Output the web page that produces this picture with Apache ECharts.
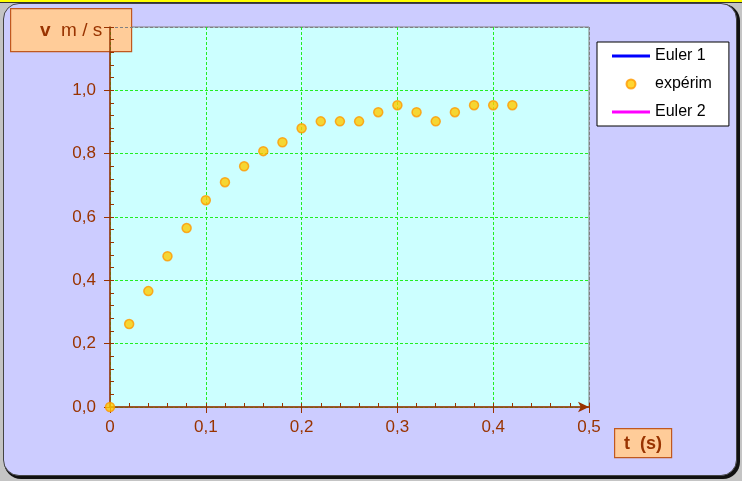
<!DOCTYPE html>
<html>
<head>
<meta charset="utf-8">
<script src="https://cdn.jsdelivr.net/npm/echarts@6/dist/echarts.min.js"></script>
<style>
  html, body { margin: 0; padding: 0; width: 742px; height: 481px; overflow: hidden; background: #c4c4c4; }
  #topstrip { position: absolute; left: 0; top: 0; width: 742px; height: 2px; background: #ffff00; border-bottom: 1px solid #333; }
  #frame { position: absolute; left: 3px; top: 3px; width: 732px; height: 471px; background: #ccccff;
           border: 1px solid #444; border-radius: 16px; box-shadow: 2px 2px 0 1px #111; }
  #chart { position: absolute; left: 0; top: 0; width: 742px; height: 481px; }
</style>
</head>
<body>
<div id="topstrip"></div>
<div id="frame"></div>
<div id="chart"></div>
<script>
// ---- data ----
const tValues = [0, 0.02, 0.04, 0.06, 0.08, 0.10, 0.12, 0.14, 0.16, 0.18, 0.20, 0.22, 0.24, 0.26, 0.28, 0.30, 0.32, 0.34, 0.36, 0.38, 0.40, 0.42];
const vValues = [0, 0.262, 0.366, 0.476, 0.565, 0.653, 0.710, 0.760, 0.808, 0.836, 0.880, 0.902, 0.902, 0.902, 0.931, 0.953, 0.931, 0.902, 0.931, 0.953, 0.953, 0.953];
const euler1 = [];
const euler2 = [];
const seriesNames = ['Euler 1', 'expérim', 'Euler 2'];
const yAxisTitle = 'v';
const yAxisUnit = 'm / s';
const xAxisTitle = 't  (s)';

const brown = '#993300';
const fontFam = '"Liberation Sans", Arial, sans-serif';
const fmtNum = v => Math.abs(v) < 1e-9 ? '0' : v.toFixed(1).replace('.', ',');

const chart = echarts.init(document.getElementById('chart'), null, { renderer: 'canvas' });

const baseX = { type: 'value', min: 0, max: 0.5, interval: 0.1, gridIndex: 0 };
const baseY = { type: 'value', min: 0, max: 1.2, interval: 0.2, gridIndex: 0 };
const green = '#22ee22';
const lineIcon = 'path://M0,0H38V3H0Z';

chart.setOption({
  backgroundColor: 'transparent',
  animation: false,
  textStyle: { fontFamily: fontFam },
  grid: {
    left: 110, top: 27, width: 479, height: 380,
    show: true, backgroundColor: '#ccffff', borderColor: '#808080', borderWidth: 1
  },
  legend: {
    orient: 'vertical',
    left: 597, top: 42,
    backgroundColor: '#ffffff', borderColor: '#000000', borderWidth: 1, borderRadius: 0,
    padding: [5, 17, 5, 15],
    itemWidth: 38, itemHeight: 9, itemGap: 10, itemTextGap: 2,
    textStyle: { fontSize: 16, color: '#000', lineHeight: 18, fontFamily: fontFam },
    data: [
      { name: seriesNames[0], icon: lineIcon },
      { name: seriesNames[1], icon: 'circle' },
      { name: seriesNames[2], icon: lineIcon }
    ]
  },
  xAxis: [
    Object.assign({}, baseX, {
      position: 'bottom',
      axisLine: { show: true, onZero: false, lineStyle: { color: brown, width: 1.5 }, symbol: ['none', 'arrow'], symbolSize: [8, 11] },
      axisTick: { show: true, inside: true, length: 4, lineStyle: { color: brown } },
      minorTick: { show: true, splitNumber: 5, length: 4, lineStyle: { color: brown } },
      axisLabel: { color: brown, fontSize: 17, margin: 12, formatter: fmtNum, fontFamily: fontFam },
      splitLine: { show: true, lineStyle: { color: [green, green, green, green, green, '#808080'], type: [3, 2], width: 1 } }
    }),
    Object.assign({}, baseX, {
      position: 'bottom',
      axisLine: { show: false, onZero: false },
      axisTick: { show: true, inside: false, length: 6, lineStyle: { color: brown } },
      axisLabel: { show: false },
      splitLine: { show: false }
    })
  ],
  yAxis: [
    Object.assign({}, baseY, {
      position: 'left',
      axisLine: { show: true, onZero: false, lineStyle: { color: brown, width: 1.5 } },
      axisTick: { show: true, inside: true, length: 4, lineStyle: { color: brown } },
      minorTick: { show: true, splitNumber: 5, length: 4, lineStyle: { color: brown } },
      axisLabel: { color: brown, fontSize: 17, margin: 14, fontFamily: fontFam,
        formatter: v => (v > 1.1 ? '' : v.toFixed(1).replace('.', ',')) },
      splitLine: { show: true, lineStyle: { color: [green, green, green, green, green, green, '#808080'], type: [3, 2], width: 1 } }
    }),
    Object.assign({}, baseY, {
      position: 'left',
      axisLine: { show: false, onZero: false },
      axisTick: { show: true, inside: false, length: 6, lineStyle: { color: brown } },
      axisLabel: { show: false },
      splitLine: { show: false }
    })
  ],
  series: [
    {
      name: seriesNames[0], type: 'line', xAxisIndex: 0, yAxisIndex: 0,
      data: euler1, showSymbol: false, symbol: 'none',
      itemStyle: { color: '#0000ff' }, lineStyle: { color: '#0000ff', width: 3 }
    },
    {
      name: seriesNames[1], type: 'scatter', xAxisIndex: 0, yAxisIndex: 0,
      data: tValues.map((t, i) => [t, vValues[i]]),
      symbol: 'circle', symbolSize: 9,
      itemStyle: { color: '#ffcc00', borderColor: '#ff9900', borderWidth: 1.5 },
      z: 5
    },
    {
      name: seriesNames[2], type: 'line', xAxisIndex: 0, yAxisIndex: 0,
      data: euler2, showSymbol: false, symbol: 'none',
      itemStyle: { color: '#ff00ff' }, lineStyle: { color: '#ff00ff', width: 3 }
    }
  ],
  graphic: [
    {
      type: 'group', left: 10, top: 8, z: 20,
      children: [
        { type: 'rect', shape: { x: 0, y: 0, width: 121, height: 43 },
          style: { fill: '#ffcc99', stroke: '#c0581f', lineWidth: 1.2 } },
        { type: 'text', x: 60.5, y: 22,
          style: {
            text: '{b|' + yAxisTitle + '}  ' + yAxisUnit,
            align: 'center', verticalAlign: 'middle',
            fill: brown, font: '19px ' + fontFam,
            rich: { b: { fontWeight: 'bold', fontSize: 19, fill: brown, fontFamily: fontFam } }
          } }
      ]
    },
    {
      type: 'group', left: 614, top: 428, z: 20,
      children: [
        { type: 'rect', shape: { x: 0, y: 0, width: 57, height: 29 },
          style: { fill: '#ffcc99', stroke: '#c0581f', lineWidth: 1.2 } },
        { type: 'text', x: 28.5, y: 15,
          style: { text: xAxisTitle, align: 'center', verticalAlign: 'middle',
                   fill: brown, font: 'bold 18px ' + fontFam } }
      ]
    }
  ]
});
</script>
</body>
</html>
